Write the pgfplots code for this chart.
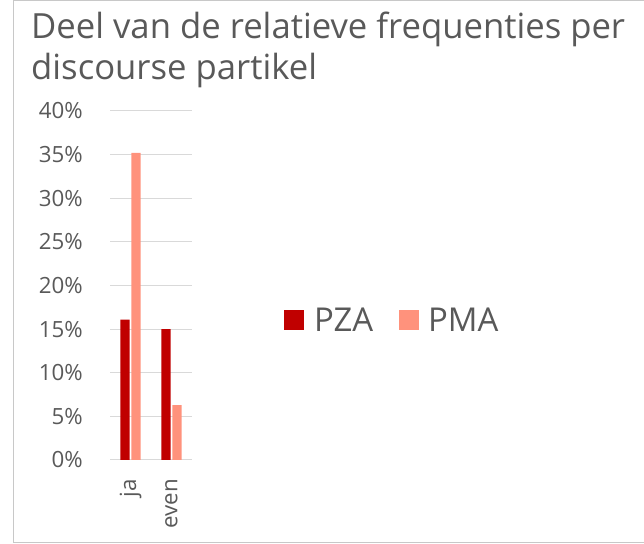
\documentclass[border=0pt]{standalone}
\usepackage{fontspec}
\setmainfont{Open Sans}
\usepackage{pgfplots}
\pgfplotsset{compat=1.18}
\definecolor{pza}{HTML}{C00000}
\definecolor{pma}{HTML}{FF927C}
\definecolor{txt}{HTML}{595959}
\definecolor{grd}{HTML}{D9D9D9}
\definecolor{brd}{HTML}{C8C8C8}
\begin{document}
\begin{tikzpicture}[x=1bp,y=1bp]
\path[use as bounding box] (0,0) rectangle (644,544);
\draw[brd, line width=1bp] (644,543) -- (13,543) -- (13,1) -- (644,1);
\node[anchor=base west, inner sep=0pt, text=txt, font=\fontsize{34.8}{40}\selectfont] at (31,505) {Deel van de relatieve frequenties per};
\node[anchor=base west, inner sep=0pt, text=txt, font=\fontsize{34.8}{40}\selectfont] at (31,464) {discourse partikel};
\begin{axis}[
  at={(110bp,84bp)}, anchor=south west,
  scale only axis, width=82bp, height=349bp,
  ybar=1.7bp, bar width=9.3bp,
  xmin=-0.5, xmax=1.5, ymin=0, ymax=40,
  xtick={0,1}, xticklabels={ja,even},
  ytick={0,5,...,40},
  yticklabel={\pgfmathprintnumber{\tick}\%},
  /pgf/number format/assume math mode=true,
  ymajorgrids, grid style={grd, line width=1bp},
  axis line style={draw=none},
  major tick length=0pt,
  yticklabel style={anchor=east, inner sep=0pt, text=txt, font=\fontsize{22.4}{26}\selectfont},
  yticklabel shift=27bp,
  xticklabel style={rotate=90, anchor=east, inner sep=0pt, text=txt, font=\fontsize{22.4}{26}\selectfont},
  xticklabel shift=19bp,
  legend columns=2,
  legend style={at={(2.12,0.401)}, anchor=west, draw=none, fill=none, inner sep=0pt,
    font=\fontsize{33}{38}\selectfont, text=txt,
    /tikz/every even column/.append style={column sep=26bp},
    nodes={inner sep=0pt}},
  legend image code/.code={\fill[#1] (0bp,-10bp) rectangle (20bp,10bp);},
]
\addplot[fill=pza, draw=none] coordinates {(0,16.1) (1,15.0)};
\addplot[fill=pma, draw=none] coordinates {(0,35.2) (1,6.3)};
\legend{\hspace{10bp}PZA,\hspace{9bp}PMA}
\end{axis}
\end{tikzpicture}
\end{document}
